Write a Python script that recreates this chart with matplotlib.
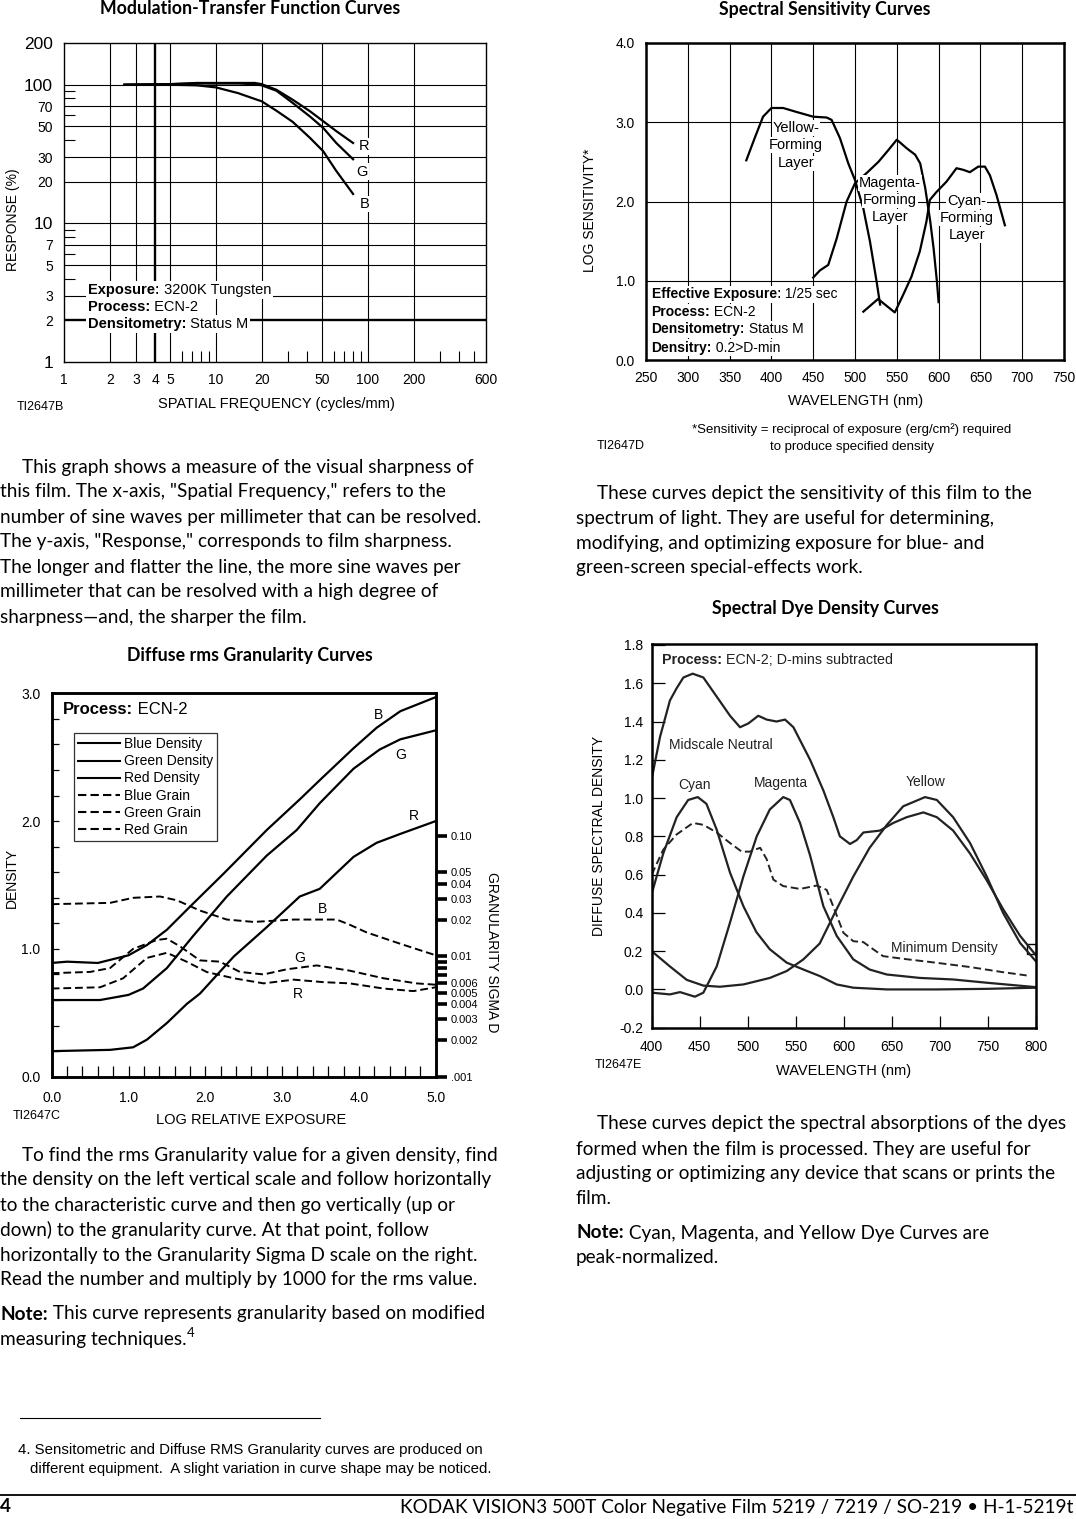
import numpy as np
import matplotlib
matplotlib.use("Agg")
import matplotlib.pyplot as plt
from matplotlib.lines import Line2D
from matplotlib.patches import Rectangle
from matplotlib.ticker import FixedLocator, NullLocator, NullFormatter

# ---------------- data ----------------
# MTF (Modulation-Transfer Function)
mtf_freq = [2.5, 5, 7.5, 10, 14, 18, 20, 25, 32, 41.6, 50.8, 62, 80]
mtf_red = [100, 101, 103, 103, 103, 103, 101, 92, 78, 64.4, 54.6, 46.3, 38]
mtf_green = [100, 101, 102, 102, 102, 101, 99, 90.6, 74, 59, 48.9, 38, 29]
mtf_blue = [100, 100, 99, 95.7, 87, 79, 76, 65, 54, 41.4, 33.2, 23.9, 16.3]
mtf_xlabels = [1, 2, 3, 4, 5, 10, 20, 50, 100, 200, 600]
mtf_ylabels = [1, 2, 3, 5, 7, 10, 20, 30, 50, 70, 100, 200]

# Spectral sensitivity
ss_yel_wl = [370, 380, 390, 400, 414, 430, 450, 466, 472, 482, 492, 500, 510, 518, 526, 530]
ss_yel = [2.52, 2.80, 3.07, 3.18, 3.18, 3.13, 3.07, 3.06, 3.03, 2.80, 2.48, 2.27, 1.91, 1.49,
          0.98, 0.70]
ss_mag_wl = [450, 458, 468, 478, 490, 500, 514, 528, 540, 550, 562, 572, 578, 584, 590, 594,
             598, 600]
ss_mag = [1.04, 1.13, 1.20, 1.53, 2.0, 2.23, 2.36, 2.50, 2.65, 2.78, 2.67, 2.59, 2.48, 2.17,
          1.75, 1.41, 0.99, 0.73]
ss_cyan_wl = [510, 527.6, 547.6, 557.5, 567.5, 577.5, 585.5, 589.5, 597.5, 609.4, 621.4, 629.4,
              637.4, 647.4, 655.4, 661.4, 669.3, 679.3]
ss_cyan = [0.61, 0.77, 0.60, 0.82, 1.05, 1.37, 1.75, 2.02, 2.12, 2.25, 2.42, 2.40, 2.37, 2.44,
           2.44, 2.33, 2.08, 1.70]

# Granularity (density curves)
gr_logE = [0.0, 0.2, 0.6, 1.0, 1.24, 1.5, 1.8, 2.24, 2.8, 3.23, 3.49, 3.93, 4.23, 4.54, 5.0]
gr_blue_d = [0.89, 0.90, 0.89, 0.95, 1.03, 1.15, 1.33, 1.59, 1.93, 2.17, 2.32, 2.57, 2.73, 2.86, 2.97]
gr_green_logE = [0.0, 0.63, 1.0, 1.19, 1.5, 1.84, 2.28, 2.8, 3.19, 3.49, 3.93, 4.27, 4.54, 5.0]
gr_green_d = [0.60, 0.60, 0.64, 0.69, 0.85, 1.10, 1.41, 1.73, 1.93, 2.14, 2.41, 2.56, 2.64, 2.71]
gr_red_logE = [0.0, 0.76, 1.06, 1.24, 1.5, 1.76, 1.93, 2.37, 2.8, 3.23, 3.49, 3.93, 4.23, 4.54, 5.0]
gr_red_d = [0.20, 0.21, 0.23, 0.29, 0.42, 0.57, 0.65, 0.94, 1.17, 1.41, 1.47, 1.72, 1.83, 1.90, 2.00]
# Granularity (sigma D, right scale)
gn_blue_logE = [0.0, 0.76, 1.06, 1.41, 1.63, 1.93, 2.28, 2.63, 3.15, 3.71, 3.88, 4.10, 4.54, 5.0]
gn_blue = [0.0271, 0.0278, 0.0306, 0.0314, 0.0292, 0.0240, 0.0202, 0.0193, 0.0202, 0.0202,
           0.0183, 0.0158, 0.0127, 0.0102]
gn_green_logE = [0.0, 0.5, 0.76, 1.06, 1.37, 1.5, 1.67, 1.93, 2.19, 2.45, 2.76, 3.06, 3.45,
                 3.88, 4.32, 4.75, 5.0]
gn_green = [0.00724, 0.00742, 0.00799, 0.01153, 0.01367, 0.0140, 0.0121, 0.00925, 0.00903,
            0.00742, 0.00707, 0.0078, 0.0084, 0.0076, 0.00657, 0.00596, 0.00581]
gn_red_logE = [0.0, 0.63, 0.93, 1.24, 1.5, 1.76, 2.02, 2.37, 2.76, 3.15, 3.54, 3.88, 4.32, 4.71, 5.0]
gn_red = [0.0054, 0.00553, 0.00657, 0.0097, 0.0107, 0.0090, 0.0074, 0.00657, 0.00596, 0.0064,
          0.0061, 0.00596, 0.0054, 0.00514, 0.00553]
gn_ticks = [0.001, 0.002, 0.003, 0.004, 0.005, 0.006, 0.007, 0.008, 0.009, 0.01,
            0.02, 0.03, 0.04, 0.05, 0.1]
gn_ticklabels = [".001", "0.002", "0.003", "0.004", "0.005", "0.006", "", "", "", "0.01",
                 "0.02", "0.03", "0.04", "0.05", "0.10"]

# Spectral dye density
dd_neut_wl = [400, 408.7, 419, 426, 433, 442.7, 453.8, 467.7, 481.6, 492, 500.7, 511, 519.8,
              530, 538.9, 547.6, 565, 578.8, 589.2, 596, 606.6, 613.5, 620.5, 637.8, 651.7,
              665.6, 683, 697, 714, 731.6, 749, 766, 783.7, 800]
dd_neut = [1.10, 1.32, 1.51, 1.574, 1.63, 1.65, 1.63, 1.53, 1.43, 1.37, 1.39, 1.43, 1.41,
           1.40, 1.41, 1.37, 1.20, 1.04, 0.90, 0.80, 0.76, 0.78, 0.82, 0.83, 0.87, 0.90,
           0.925, 0.90, 0.83, 0.71, 0.57, 0.42, 0.28, 0.18]
dd_cyan_wl = [400, 412, 426, 438, 448, 457, 467.7, 481.6, 495.5, 509, 523, 540.6, 558, 575,
              592.7, 610, 645, 697, 749, 800]
dd_cyan = [0.50, 0.71, 0.90, 0.99, 1.005, 0.97, 0.835, 0.61, 0.435, 0.30, 0.21, 0.14, 0.104,
           0.07, 0.026, 0.009, 0.0, 0.0, 0.003, 0.009]
dd_mag_wl = [400, 419, 429.5, 445, 453.8, 467.7, 481.6, 495.5, 509.4, 523, 537, 544, 554.5,
             565, 578.8, 592.7, 610, 627, 644.8, 679.5, 714, 749, 800]
dd_mag = [-0.017, -0.026, -0.014, -0.038, -0.017, 0.12, 0.35, 0.59, 0.80, 0.94, 1.005, 0.99,
          0.87, 0.70, 0.435, 0.28, 0.157, 0.104, 0.078, 0.06, 0.052, 0.035, 0.012]
dd_yel_wl = [400, 419, 436.5, 453.8, 471, 495.5, 523, 540.6, 558, 575, 592.7, 610, 627, 645,
             662, 684.7, 697, 714, 731.6, 749, 766, 783.7, 800]
dd_yel = [0.20, 0.12, 0.05, 0.02, 0.014, 0.026, 0.06, 0.096, 0.157, 0.24, 0.42, 0.59, 0.74,
          0.86, 0.957, 1.005, 0.99, 0.90, 0.765, 0.59, 0.40, 0.243, 0.148]
dd_min_wl = [400, 412, 426, 443, 453.8, 467.7, 481.6, 493.8, 502, 513, 519.8, 526.7, 537,
             554.5, 572, 582.3, 589, 599.7, 610, 620.5, 631, 641, 662, 697, 731.6, 766, 790.6]
dd_min = [0.60, 0.73, 0.81, 0.87, 0.86, 0.82, 0.765, 0.72, 0.72, 0.74, 0.68, 0.574, 0.54,
          0.525, 0.543, 0.52, 0.435, 0.296, 0.252, 0.247, 0.209, 0.174, 0.16, 0.139, 0.117,
          0.09, 0.073]

# ---------------- figure ----------------
W, H = 1076, 1519
fig = plt.figure(figsize=(W / 100, H / 100), dpi=100)
fig.patch.set_facecolor("white")
REND = fig.canvas.get_renderer()
CF = ["Liberation Sans", "DejaVu Sans"]
BF = ["Lato", "DejaVu Sans"]
K = "black"


def px_axes(l, t, r, b):
    return fig.add_axes([l / W, 1 - b / H, (r - l) / W, (b - t) / H])


def ftext(x, y, s, **kw):
    kw.setdefault("va", "center")
    return fig.text(x / W, 1 - y / H, s, **kw)


def rich(x, y, parts, size, family=CF, color=K, bbox=False, zorder=10):
    cx = x
    for s, w in parts:
        kw = dict(fontsize=size, family=family, weight=w, va="center", ha="left",
                  color=color, zorder=zorder)
        if bbox:
            kw["bbox"] = dict(facecolor="white", edgecolor="none", pad=1.2)
        t = fig.text(cx / W, 1 - y / H, s, **kw)
        cx += t.get_window_extent(REND).width
    return cx


# ======== 1. MTF ========
ax = px_axes(64, 43, 486, 362)
ax.set_xscale("log")
ax.set_yscale("log")
ax.set_xlim(1, 600)
ax.set_ylim(1, 200)
for v in [2, 3, 5, 10, 20, 50, 100, 200]:
    ax.axvline(v, color=K, lw=0.8, zorder=1)
for v in [3, 5, 7, 10, 20, 30, 50, 70, 100]:
    ax.axhline(v, color=K, lw=0.8, zorder=1)
ax.axvline(4, color=K, lw=1.7, zorder=1)
ax.axhline(2, color=K, lw=1.7, zorder=1)
ax.xaxis.set_major_locator(FixedLocator(mtf_xlabels))
ax.set_xticklabels([str(v) for v in mtf_xlabels], family=CF, fontsize=10)
ax.xaxis.set_minor_locator(FixedLocator([6, 7, 8, 9, 30, 40, 60, 70, 80, 90, 300, 400, 500]))
ax.xaxis.set_minor_formatter(NullFormatter())
ax.yaxis.set_major_locator(FixedLocator(mtf_ylabels))
ax.set_yticklabels([str(v) for v in mtf_ylabels], family=CF, fontsize=10)
for lab, v in zip(ax.get_yticklabels(), mtf_ylabels):
    if v in (1, 10, 100, 200):
        lab.set_fontsize(12.5)
ax.yaxis.set_minor_locator(FixedLocator([4, 6, 8, 9, 40, 60, 80, 90]))
ax.yaxis.set_minor_formatter(NullFormatter())
ax.tick_params(which="major", length=0, pad=8)
ax.tick_params(which="minor", direction="in", length=8, width=0.8, top=False, right=False)
for s in ax.spines.values():
    s.set_linewidth(1.0)
ax.plot(mtf_freq, mtf_red, color=K, lw=1.6, zorder=3)
ax.plot(mtf_freq, mtf_green, color=K, lw=1.6, zorder=3)
ax.plot(mtf_freq, mtf_blue, color=K, lw=1.6, zorder=3)
lbl = dict(fontsize=10.5, family=CF, ha="center", va="center", zorder=5,
           bbox=dict(facecolor="white", edgecolor="none", pad=1.0))
ax.text(94, 36, "R", **lbl)
ax.text(92, 23.5, "G", **lbl)
ax.text(96, 13.8, "B", **lbl)
rich(88, 290, [("Exposure:", "bold"), (" 3200K Tungsten", "normal")], 10.5, bbox=True)
rich(88, 307, [("Process:", "bold"), (" ECN-2", "normal")], 10.5, bbox=True)
rich(88, 324, [("Densitometry:", "bold"), (" Status M", "normal")], 10.5, bbox=True)
ftext(13, 220, "RESPONSE (%)", rotation=90, ha="center", family=CF, fontsize=10)
ftext(276, 404, "SPATIAL FREQUENCY (cycles/mm)", ha="center", family=CF, fontsize=10.5)
ftext(17, 407, "TI2647B", ha="left", family=CF, fontsize=9)
ftext(250, 9, "Modulation-Transfer Function Curves", ha="center", family=BF,
      fontsize=12.8, weight="bold")

# ======== 2. Spectral sensitivity ========
ax = px_axes(646, 43, 1064, 360)
ax.set_xlim(250, 750)
ax.set_ylim(0, 4)
ax.set_xticks(np.arange(250, 751, 50))
ax.set_yticks([0, 1, 2, 3, 4])
ax.set_yticklabels(["0.0", "1.0", "2.0", "3.0", "4.0"], family=CF, fontsize=10)
ax.set_xticklabels([str(v) for v in range(250, 751, 50)], family=CF, fontsize=10)
ax.tick_params(length=0, pad=8)
ax.grid(True, color=K, lw=0.8, zorder=0)
ax.set_axisbelow(True)
for s in ax.spines.values():
    s.set_linewidth(1.8)
ax.plot(ss_yel_wl, ss_yel, color=K, lw=1.6, zorder=3)
ax.plot(ss_mag_wl, ss_mag, color=K, lw=1.6, zorder=3)
ax.plot(ss_cyan_wl, ss_cyan, color=K, lw=1.6, zorder=3)
lab = dict(fontsize=10.5, family=CF, ha="center", va="center", zorder=5,
           bbox=dict(facecolor="white", edgecolor="none", pad=0.6))
for txt, x, ys in [(["Yellow-", "Forming", "Layer"], 429.4, [2.93, 2.71, 2.48]),
                   (["Magenta-", "Forming", "Layer"], 541.9, [2.23, 2.02, 1.80]),
                   (["Cyan-", "Forming", "Layer"], 633.6, [2.01, 1.79, 1.58])]:
    for t, y in zip(txt, ys):
        ax.text(x, y, t, **lab)
rich(651.5, 294.3, [("Effective Exposure:", "bold"), (" 1/25 sec", "normal")], 10, bbox=True)
rich(651.5, 312.3, [("Process:", "bold"), (" ECN-2", "normal")], 10, bbox=True)
rich(651.5, 329.3, [("Densitometry:", "bold"), (" Status M", "normal")], 10, bbox=True)
rich(651.5, 347.7, [("Densitry:", "bold"), (" 0.2>D-min", "normal")], 10, bbox=True)
ftext(590, 210, "LOG SENSITIVITY*", rotation=90, ha="center", family=CF, fontsize=10)
ftext(856, 401, "WAVELENGTH (nm)", ha="center", family=CF, fontsize=10.5)
ftext(852, 430, "*Sensitivity = reciprocal of exposure (erg/cm²) required", ha="center",
      family=CF, fontsize=9.5)
ftext(852, 447, "to produce specified density", ha="center", family=CF, fontsize=9.5)
ftext(597, 446, "TI2647D", ha="left", family=CF, fontsize=9)
ftext(825, 9, "Spectral Sensitivity Curves", ha="center", family=BF, fontsize=12.8,
      weight="bold")

# ======== 3. Granularity ========
ax = px_axes(51.7, 693.3, 435.7, 1076.7)
ax.set_xlim(0, 5)
ax.set_ylim(0, 3)
ax.set_xticks([0, 1, 2, 3, 4, 5])
ax.set_xticklabels(["0.0", "1.0", "2.0", "3.0", "4.0", "5.0"], family=CF, fontsize=10)
ax.set_yticks([0, 1, 2, 3])
ax.set_yticklabels(["0.0", "1.0", "2.0", "3.0"], family=CF, fontsize=10)
ax.xaxis.set_minor_locator(FixedLocator(np.arange(0.2, 5.0, 0.2)))
ax.yaxis.set_minor_locator(FixedLocator(np.arange(0.2, 3.0, 0.2)))
ax.tick_params(which="both", direction="in", top=False, right=False, width=0.9)
ax.tick_params(axis="x", which="both", length=8)
ax.tick_params(axis="y", which="both", length=5)
ax.tick_params(axis="x", which="major", pad=10)
ax.tick_params(axis="y", which="major", pad=8)
for s in ax.spines.values():
    s.set_linewidth(1.8)
ax.plot(gr_logE, gr_blue_d, color=K, lw=1.6)
ax.plot(gr_green_logE, gr_green_d, color=K, lw=1.6)
ax.plot(gr_red_logE, gr_red_d, color=K, lw=1.6)
ax2 = ax.twinx()
ax2.set_yscale("log")
ax2.set_ylim(0.001, 0.001 * 10 ** (3 / 0.942))
ax2.yaxis.set_major_locator(FixedLocator(gn_ticks))
ax2.set_yticklabels(gn_ticklabels, family=CF, fontsize=8)
ax2.yaxis.set_minor_locator(NullLocator())
ax2.tick_params(axis="y", which="major", direction="out", length=8, width=2.6, pad=3)
for s in ax2.spines.values():
    s.set_linewidth(1.8)
DASH = (0, (4, 2))
ax2.plot(gn_blue_logE, gn_blue, color=K, lw=1.4, ls=DASH)
ax2.plot(gn_green_logE, gn_green, color=K, lw=1.4, ls=DASH)
ax2.plot(gn_red_logE, gn_red, color=K, lw=1.4, ls=DASH)
handles = [Line2D([], [], color=K, lw=1.5, ls="-") for _ in range(3)] + \
          [Line2D([], [], color=K, lw=1.5, ls=DASH) for _ in range(3)]
labels = ["Blue Density", "Green Density", "Red Density", "Blue Grain", "Green Grain",
          "Red Grain"]
leg = ax2.legend(handles, labels, loc="upper left", bbox_to_anchor=(0.058, 0.896),
                 borderaxespad=0, frameon=True, fancybox=False, edgecolor=K,
                 prop=dict(family=CF, size=10), handlelength=3.0, handletextpad=0.3,
                 labelspacing=0.22, borderpad=0.3)
leg.get_frame().set_linewidth(0.9)
gl = dict(fontsize=10, family=CF, ha="center", va="center")
ax.text(4.26, 2.83, "B", **gl)
ax.text(4.54, 2.52, "G", **gl)
ax.text(4.72, 2.04, "R", **gl)
ax.text(3.52, 1.31, "B", **gl)
ax.text(3.23, 0.93, "G", **gl)
ax.text(3.20, 0.65, "R", **gl)
rich(63, 710, [("Process:", "bold"), (" ECN-2", "normal")], 12)
ftext(12, 878, "DENSITY", rotation=90, ha="center", family=CF, fontsize=10)
ftext(251, 1120, "LOG RELATIVE EXPOSURE", ha="center", family=CF, fontsize=10.5)
ftext(13, 1116, "TI2647C", ha="left", family=CF, fontsize=9)
ftext(492, 952, "GRANULARITY SIGMA D", rotation=-90, ha="center", family=CF, fontsize=10)
ftext(250, 656, "Diffuse rms Granularity Curves", ha="center", family=BF, fontsize=12.8,
      weight="bold")

# ======== 4. Spectral dye density ========
ax = px_axes(651.7, 644, 1035.7, 1027.7)
ax.set_xlim(400, 800)
ax.set_ylim(-0.197, 1.805)
ax.set_xticks(np.arange(400, 801, 50))
ax.set_xticklabels([str(v) for v in range(400, 801, 50)], family=CF, fontsize=10)
yt = [-0.2, 0.0, 0.2, 0.4, 0.6, 0.8, 1.0, 1.2, 1.4, 1.6, 1.8]
ax.set_yticks(yt)
ax.set_yticklabels(["%.1f" % v for v in yt], family=CF, fontsize=10)
ax.tick_params(direction="in", length=9, width=0.9, top=False, right=False)
ax.tick_params(axis="x", pad=9)
ax.tick_params(axis="y", pad=6)
for s in ax.spines.values():
    s.set_linewidth(1.8)
ax.plot(dd_neut_wl, dd_neut, color="#222222", lw=1.6)
ax.plot(dd_cyan_wl, dd_cyan, color="#222222", lw=1.6)
ax.plot(dd_mag_wl, dd_mag, color="#222222", lw=1.6)
ax.plot(dd_yel_wl, dd_yel, color="#222222", lw=1.6)
ax.plot(dd_min_wl, dd_min, color="#222222", lw=1.4, ls=DASH)
ax.add_patch(Rectangle((790.6, 0.183), 9.4, 0.052, fill=False, edgecolor=K, lw=1.0,
                       clip_on=False))
dl = dict(fontsize=10, family=CF, va="center", color="#222222")
ax.text(418, 1.278, "Midscale Neutral", ha="left", **dl)
ax.text(444.4, 1.07, "Cyan", ha="center", **dl)
ax.text(534.7, 1.078, "Magenta", ha="center", **dl)
ax.text(685.4, 1.082, "Yellow", ha="center", **dl)
ax.text(649, 0.217, "Minimum Density", ha="left", **dl)
rich(661.7, 660, [("Process:", "bold"), (" ECN-2; D-mins subtracted", "normal")], 10.3,
     color="#222222")
ftext(599, 836, "DIFFUSE SPECTRAL DENSITY", rotation=90, ha="center", family=CF, fontsize=10)
ftext(844, 1071, "WAVELENGTH (nm)", ha="center", family=CF, fontsize=10.5)
ftext(595, 1065, "TI2647E", ha="left", family=CF, fontsize=9)
ftext(825, 608, "Spectral Dye Density Curves", ha="center", family=BF, fontsize=12.8,
      weight="bold")

# ======== body text ========
BS = 13.7
body_left1 = ["This graph shows a measure of the visual sharpness of",
              "this film. The x-axis, \"Spatial Frequency,\" refers to the",
              "number of sine waves per millimeter that can be resolved.",
              "The y-axis, \"Response,\" corresponds to film sharpness.",
              "The longer and flatter the line, the more sine waves per",
              "millimeter that can be resolved with a high degree of",
              "sharpness\u2014and, the sharper the film."]
for i, s in enumerate(body_left1):
    ftext(22 if i == 0 else 0, 467 + 25 * i, s, ha="left", family=BF, fontsize=BS)

body_left2 = ["To find the rms Granularity value for a given density, find",
              "the density on the left vertical scale and follow horizontally",
              "to the characteristic curve and then go vertically (up or",
              "down) to the granularity curve. At that point, follow",
              "horizontally to the Granularity Sigma D scale on the right.",
              "Read the number and multiply by 1000 for the rms value."]
for i, s in enumerate(body_left2):
    ftext(22 if i == 0 else 0, 1155 + 25 * i, s, ha="left", family=BF, fontsize=BS)
rich(0, 1314, [("Note:", "bold"), (" This curve represents granularity based on modified",
                                    "normal")], BS, family=BF)
ex = rich(0, 1339, [("measuring techniques.", "normal")], BS, family=BF)
ftext(ex + 0.5, 1333, "4", ha="left", family=BF, fontsize=9.5)

body_right1 = ["These curves depict the sensitivity of this film to the",
               "spectrum of light. They are useful for determining,",
               "modifying, and optimizing exposure for blue- and",
               "green-screen special-effects work."]
for i, s in enumerate(body_right1):
    ftext(597 if i == 0 else 576, 493 + 25 * i, s, ha="left", family=BF, fontsize=BS)

body_right2 = ["These curves depict the spectral absorptions of the dyes",
               "formed when the film is processed. They are useful for",
               "adjusting or optimizing any device that scans or prints the",
               "film."]
for i, s in enumerate(body_right2):
    ftext(597 if i == 0 else 576, 1124 + 25 * i, s, ha="left", family=BF, fontsize=BS)
rich(576, 1233, [("Note:", "bold"), (" Cyan, Magenta, and Yellow Dye Curves are", "normal")],
     BS, family=BF)
ftext(576, 1258, "peak-normalized.", ha="left", family=BF, fontsize=BS)

# ======== footnote / footer ========
fig.add_artist(Line2D([20 / W, 320 / W], [1 - 1418 / H, 1 - 1418 / H], color=K, lw=0.8))
ftext(18, 1450, "4. Sensitometric and Diffuse RMS Granularity curves are produced on",
      ha="left", family=CF, fontsize=10.8)
ftext(30, 1469, "different equipment.  A slight variation in curve shape may be noticed.",
      ha="left", family=CF, fontsize=10.8)
fig.add_artist(Line2D([0, 1], [1 - 1495 / H, 1 - 1495 / H], color=K, lw=1.3))
ftext(0, 1507, "4", ha="left", family=BF, fontsize=13.7, weight="bold")
ftext(1073, 1507, "KODAK VISION3 500T Color Negative Film 5219 / 7219 / SO-219 \u2022 H-1-5219t",
      ha="right", family=BF, fontsize=13.7)

fig.savefig("out.png", dpi=100, facecolor="white")
